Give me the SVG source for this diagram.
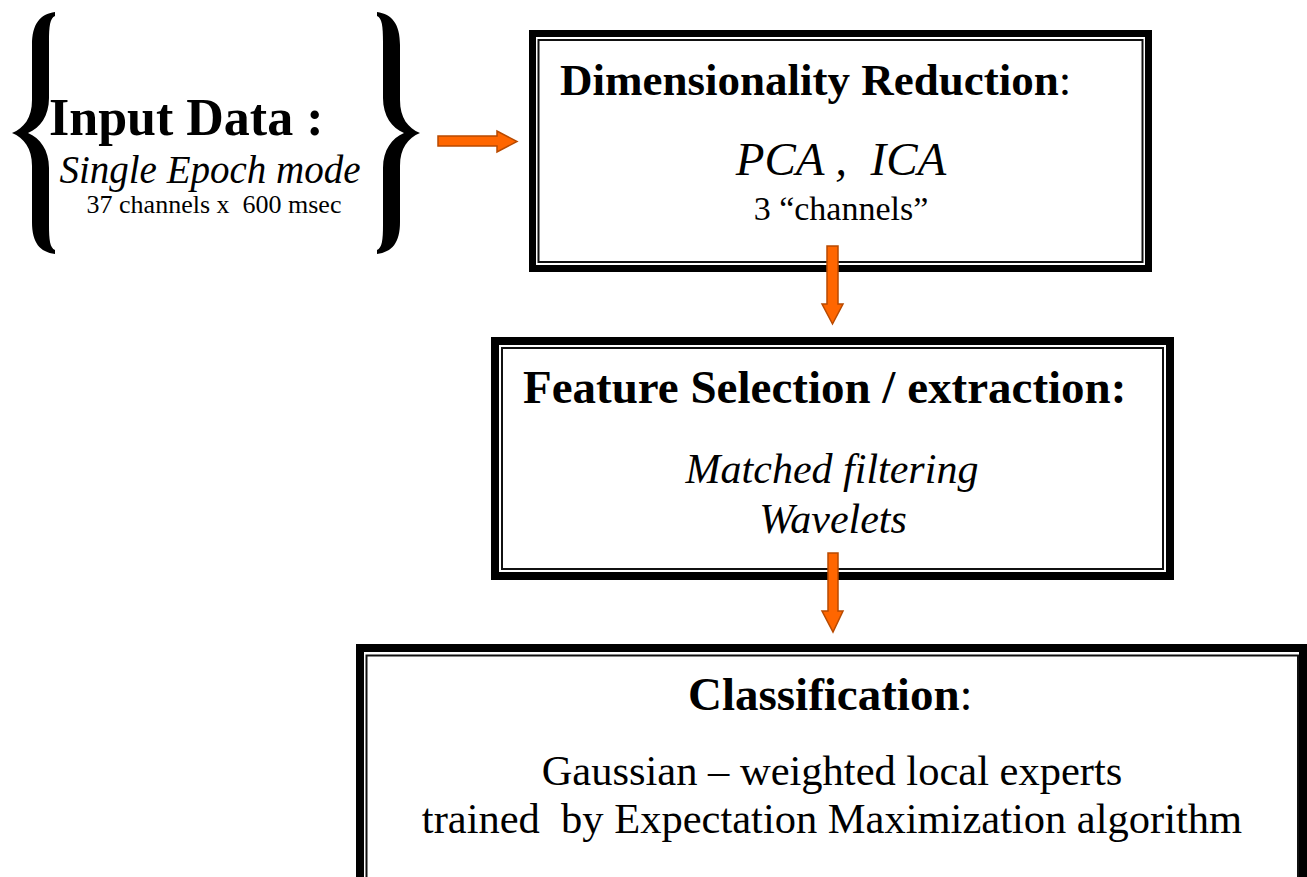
<svg xmlns="http://www.w3.org/2000/svg" width="1307" height="877" viewBox="0 0 1307 877">
<style>
  text { font-family: "Liberation Serif", "Times New Roman", serif; fill: #000; white-space: pre; }
  .b { font-weight: bold; }
  .i { font-style: italic; }
  .thick { fill: none; stroke: #000; }
  .thin { fill: none; stroke: #111; stroke-width: 2; }
  .arrow { fill: #FF6600; stroke: #B84A00; stroke-width: 1.5; stroke-linejoin: miter; }
  .brace { fill: #000; }
</style>
<defs>
  <path id="brace" d="M 55 12 C 40 14, 32 24, 32 45 L 32 100 C 32 118, 24 128, 12 133 C 24 138, 32 148, 32 166 L 32 222 C 32 243, 40 252, 55 254 L 55 250 C 50 248, 49 240, 49 225 L 49 168 C 49 150, 40 138, 28 133 C 40 128, 49 116, 49 98 L 49 42 C 49 26, 50 18, 55 16 Z"/>
</defs>
<rect width="1307" height="877" fill="#fff"/>

<g id="input">
  <use href="#brace" class="brace"/>
  <use href="#brace" class="brace" transform="matrix(-1,0,0,1,432,0)"/>
  <text x="49" y="135" font-size="52" class="b">Input Data :</text>
  <text x="210" y="183" font-size="39" class="i" text-anchor="middle">Single Epoch mode</text>
  <text x="214" y="213" font-size="26" text-anchor="middle">37 channels x  600 msec</text>
</g>

<g id="dimred">
  <rect class="thick" x="532.5" y="33.5" width="616" height="235" stroke-width="7"/>
  <rect class="thin" x="538.5" y="40" width="604" height="222"/>
  <text x="560" y="95" font-size="45"><tspan class="b">Dimensionality Reduction</tspan>:</text>
  <text x="841" y="175" font-size="47" class="i" text-anchor="middle">PCA ,  ICA</text>
  <text x="841" y="220" font-size="34" text-anchor="middle">3 “channels”</text>
</g>

<g id="features">
  <rect class="thick" x="495" y="341" width="675" height="235" stroke-width="8"/>
  <rect class="thin" x="502" y="348" width="661" height="221"/>
  <text x="523" y="403" font-size="47" class="b">Feature Selection / extraction:</text>
  <text x="832" y="483" font-size="42" class="i" text-anchor="middle">Matched filtering</text>
  <text x="833" y="533" font-size="42" class="i" text-anchor="middle">Wavelets</text>
</g>

<g id="classification">
  <rect class="thick" x="360" y="648" width="943" height="260" stroke-width="8"/>
  <rect class="thin" x="366.5" y="655.5" width="931.5" height="240"/>
  <text x="688" y="710" font-size="47"><tspan class="b">Classification</tspan>:</text>
  <text x="832" y="785" font-size="42.5" text-anchor="middle">Gaussian – weighted local experts</text>
  <text x="832" y="833" font-size="42.5" text-anchor="middle">trained  by Expectation Maximization algorithm</text>
</g>

<g id="connectors">
  <path class="arrow" d="M 438 136 L 497 136 L 497 131 L 517 141.5 L 497 152 L 497 146 L 438 146 Z"/>
  <path class="arrow" d="M 827 246 L 838 246 L 838 304 L 843 304 L 832.5 324 L 822 304 L 827 304 Z"/>
  <path class="arrow" d="M 828 553 L 838 553 L 838 611 L 843 611 L 833 632 L 822 611 L 828 611 Z"/>
</g>
</svg>
